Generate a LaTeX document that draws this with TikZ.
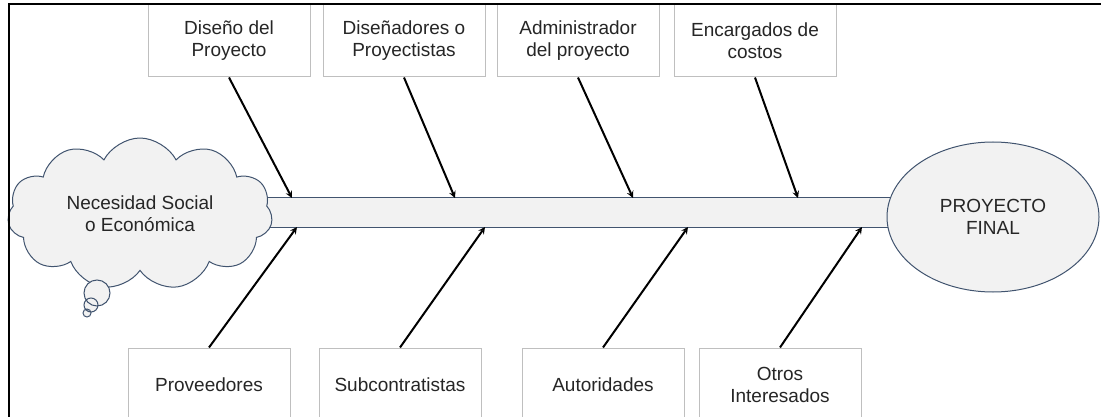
\documentclass[tikz,border=0pt]{standalone}
\usepackage{fontspec}
\setmainfont{Liberation Sans}
\usetikzlibrary{shapes.geometric,shapes.symbols}
\definecolor{linea}{HTML}{41546F}
\definecolor{relleno}{HTML}{F2F2F2}
\definecolor{borde}{HTML}{BFBFBF}
\definecolor{texto}{HTML}{262626}
\begin{document}
\begin{tikzpicture}[x=1pt,y=-1pt,
    font=\fontsize{19}{22}\selectfont, text=texto,
    caja/.style={draw=borde, line width=1pt, fill=white, minimum width=162pt,
      minimum height=73pt, align=center, inner sep=0pt},
    forma/.style={draw=linea, fill=relleno, line width=1pt, align=center, inner sep=0pt},
    flecha/.style={->, >=stealth, line width=2pt}]
 \useasboundingbox (0,0) rectangle (1101,417);

 % espina central
 \draw [forma] (250,198) rectangle (900,227);
 \coordinate (a1) at (292,198);
 \coordinate (a2) at (455,198);
 \coordinate (a3) at (633,198);
 \coordinate (a4) at (798,198);
 \coordinate (b1) at (297,227);
 \coordinate (b2) at (485,227);
 \coordinate (b3) at (688,227);
 \coordinate (b4) at (862,227);

 % cabeza y cola
 \node (necesidad) [forma, cloud, cloud puffs=11, cloud puff arc=125, cloud ignores aspect,
   minimum width=265pt, minimum height=152pt] at (140,214) {Necesidad Social\\o Económica};
 \filldraw [linea, fill=relleno, line width=1pt] (97,293) circle (13pt)
   (91,305) circle (7pt)
   (87,313) circle (4pt);
 \node (final) [forma, ellipse, minimum width=212pt, minimum height=150pt]
   at (993,217) {PROYECTO\\FINAL};

 % participantes arriba
 \node (diseno) [caja] at (229,40.5) {Diseño del\\Proyecto};
 \node (disenadores) [caja] at (404,40.5) {Diseñadores o\\Proyectistas};
 \node (admin) [caja] at (578,40.5) {Administrador\\del proyecto};
 \node (costos) [caja] at (755,40.5) {Encargados de\\costos};

 % participantes abajo
 \node (proveedores) [caja] at (209,384.5) {Proveedores};
 \node (subcontratistas) [caja] at (400,384.5) {Subcontratistas};
 \node (autoridades) [caja] at (603,384.5) {Autoridades};
 \node (otros) [caja] at (780,384.5) {Otros\\Interesados};

 \draw [flecha] (diseno.south) -- (a1);
 \draw [flecha] (disenadores.south) -- (a2);
 \draw [flecha] (admin.south) -- (a3);
 \draw [flecha] (costos.south) -- (a4);
 \draw [flecha] (proveedores.north) -- (b1);
 \draw [flecha] (subcontratistas.north) -- (b2);
 \draw [flecha] (autoridades.north) -- (b3);
 \draw [flecha] (otros.north) -- (b4);

 % marco
 \draw [line width=2pt] (9,417) -- (9,4) -- (1101,4);
\end{tikzpicture}
\end{document}
